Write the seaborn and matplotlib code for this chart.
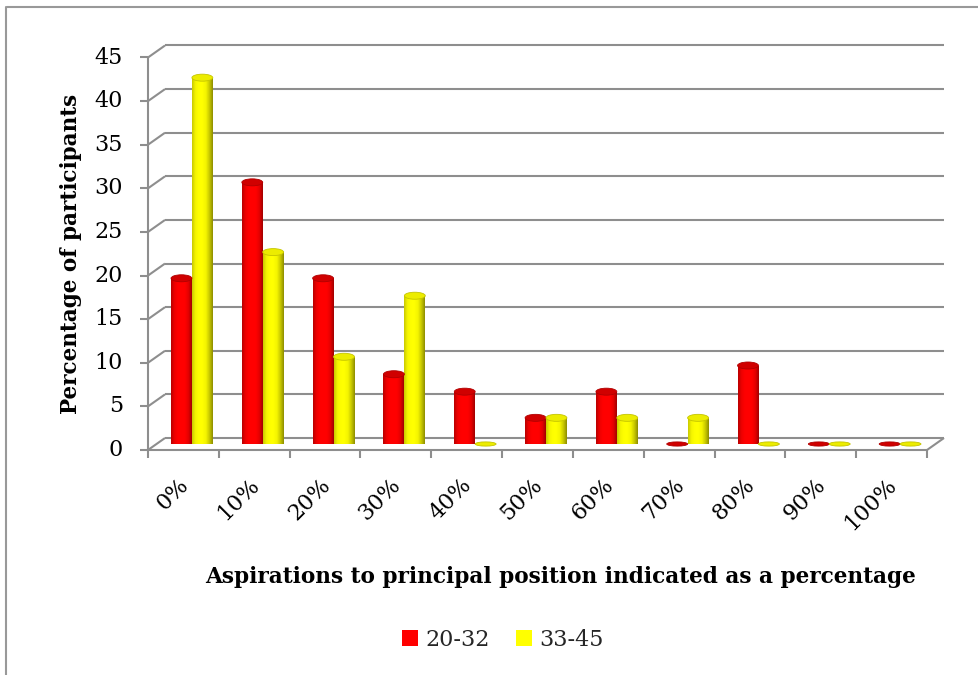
import numpy as np
import pandas as pd
import matplotlib
matplotlib.use("Agg")
import matplotlib.pyplot as plt
import seaborn as sns
from matplotlib.patches import Ellipse, Rectangle
from matplotlib.colors import LinearSegmentedColormap
from matplotlib.transforms import offset_copy

# ---- data -------------------------------------------------------------
categories = ["0%", "10%", "20%", "30%", "40%", "50%",
              "60%", "70%", "80%", "90%", "100%"]
age_groups = ["20-32", "33-45"]
pct_20_32 = [19, 30, 19, 8, 6, 3, 6, 0, 9, 0, 0]
pct_33_45 = [42, 22, 10, 17, 0, 3, 3, 3, 0, 0, 0]
y_ticks = [0, 5, 10, 15, 20, 25, 30, 35, 40, 45]

x_title = "Aspirations to principal position indicated as a percentage"
y_title = "Percentage of participants"

# ---- style ------------------------------------------------------------
sns.set_theme(style="white")
plt.rcParams["font.family"] = ["DejaVu Serif", "Liberation Serif"]

bar_colors = {"20-32": "#ff0000", "33-45": "#ffff00"}
shade_maps = {
    "20-32": LinearSegmentedColormap.from_list(
        "red_cyl", ["#b80000", "#ee0000", "#ff0000", "#ff0000",
                    "#ff0000", "#e40000", "#a00000"]),
    "33-45": LinearSegmentedColormap.from_list(
        "yel_cyl", ["#c8c800", "#f4f400", "#ffff00", "#ffff00",
                    "#f4f400", "#c8c800", "#8c8c00"]),
}
cap_face = {"20-32": "#d00000", "33-45": "#ecec00"}
cap_edge = {"20-32": "#b00000", "33-45": "#c4c400"}
grid_color = "#8e8e8e"

df = pd.DataFrame({
    "aspiration": categories * 2,
    "group": [age_groups[0]] * len(categories) + [age_groups[1]] * len(categories),
    "pct": pct_20_32 + pct_33_45,
})

W, H = 979, 675
fig = plt.figure(figsize=(W / 100, H / 100), dpi=100)

# axes holds the plane in which the cylinders stand (middle of the depth)
left_px, right_px, zero_px, top_px = 156.5, 935.5, 444.0, 51.5
ax = fig.add_axes([left_px / W, (H - zero_px) / H,
                   (right_px - left_px) / W, (zero_px - top_px) / H])

sns.barplot(data=df, x="aspiration", y="pct", hue="group",
            palette=bar_colors, width=0.59, saturation=1,
            legend=False, ax=ax, order=categories, hue_order=age_groups)

n = len(categories)
ymax = y_ticks[-1]
px_per_x = (right_px - left_px) / n
px_per_y = (zero_px - top_px) / ymax
# half the depth of the 3-D box, in data units
dxu = 8.5 / px_per_x
dyu = 6.0 / px_per_y
cap_h = 7.0 / px_per_y

# ---- cylinders --------------------------------------------------------
grad = np.linspace(0, 1, 256).reshape(1, -1)
bars = list(ax.patches)
for k, bar in enumerate(bars):
    grp = age_groups[k // n]
    x0 = bar.get_x()
    w = bar.get_width()
    h = bar.get_height()
    cx = x0 + w / 2
    bar.set_edgecolor("none")
    if h > 0:
        im = ax.imshow(grad, cmap=shade_maps[grp], aspect="auto",
                       extent=[x0, x0 + w, 0, h], zorder=3,
                       interpolation="bilinear")
        im.set_clip_path(bar)
        base = Ellipse((cx, 0), w, cap_h, facecolor="none", edgecolor="none")
        ax.add_patch(base)
        im2 = ax.imshow(grad, cmap=shade_maps[grp], aspect="auto",
                        extent=[x0, x0 + w, -cap_h, cap_h], zorder=2.9,
                        interpolation="bilinear")
        im2.set_clip_path(base)
        im2.set_clip_box(None)
    top = Ellipse((cx, h), w, cap_h if h > 0 else cap_h * 0.6,
                  facecolor=cap_face[grp], edgecolor=cap_edge[grp],
                  linewidth=0.6, zorder=4, clip_on=False)
    ax.add_patch(top)

# ---- 3-D frame: back wall, side wall and floor ------------------------
x_lo, x_hi = -0.5, n - 0.5
line_kw = dict(color=grid_color, lw=1.5, clip_on=False, zorder=1,
               solid_capstyle="butt")
for t in y_ticks:
    # back wall gridline and its diagonal on the side wall
    ax.plot([x_lo + dxu, x_hi + dxu], [t + dyu, t + dyu], **line_kw)
    ax.plot([x_lo - dxu, x_lo + dxu], [t - dyu, t + dyu], **line_kw)
# front value axis
ax.plot([x_lo - dxu, x_lo - dxu], [-dyu, ymax - dyu], **line_kw)
# front edge of the floor and its right side
ax.plot([x_lo - dxu, x_hi - dxu], [-dyu, -dyu], **line_kw)
ax.plot([x_hi - dxu, x_hi + dxu], [-dyu, dyu], **line_kw)

# value ticks and labels
tick_len_x = 8 / px_per_x
for t in y_ticks:
    ax.plot([x_lo - dxu - tick_len_x, x_lo - dxu], [t - dyu, t - dyu], **line_kw)
ylab_tr = offset_copy(ax.transData, fig=fig, x=-17, y=0, units="dots")
for t in y_ticks:
    ax.text(x_lo - dxu - tick_len_x, t - dyu, str(t), transform=ylab_tr,
            ha="right", va="center", fontsize=16, color="#000000")

# category ticks and labels
tick_len_y = 8 / px_per_y
for i in range(n + 1):
    xb = x_lo + i - dxu
    ax.plot([xb, xb], [-dyu, -dyu - tick_len_y], **line_kw)
xlab_tr = offset_copy(ax.transData, fig=fig, x=-6, y=-24, units="dots")
for i, c in enumerate(categories):
    ax.text(i - dxu, -dyu, c, transform=xlab_tr, rotation=45,
            rotation_mode="anchor", ha="right", va="top",
            fontsize=16, color="#000000")

ax.set_xlim(x_lo, x_hi)
ax.set_ylim(0, ymax)
ax.set_axis_off()

# ---- titles -----------------------------------------------------------
fig.text(561 / W, 1 - 577 / H, x_title, ha="center", va="center",
         fontsize=15.6, fontweight="bold", color="#000000")
fig.text(71 / W, 1 - 254 / H, y_title, ha="center", va="center",
         rotation=90, fontsize=15.5, fontweight="bold", color="#000000")

# ---- legend -----------------------------------------------------------
handles = [Rectangle((0, 0), 1, 1, facecolor=bar_colors[g], edgecolor="none")
           for g in age_groups]
fig.legend(handles, age_groups, loc="center", ncol=2,
           bbox_to_anchor=(503 / W, 1 - 640 / H), frameon=False,
           fontsize=16, handlelength=0.7, handleheight=0.7,
           handletextpad=0.35, columnspacing=1.2)

# ---- outer chart border (top and left edges) --------------------------
fig.add_artist(plt.Line2D([7 / W, 1], [1 - 7 / H, 1 - 7 / H],
                          transform=fig.transFigure, color="#999999", lw=1.5))
fig.add_artist(plt.Line2D([6 / W, 6 / W], [0, 1 - 7 / H],
                          transform=fig.transFigure, color="#999999", lw=1.5))

fig.savefig("out.png", dpi=100, facecolor="white")
